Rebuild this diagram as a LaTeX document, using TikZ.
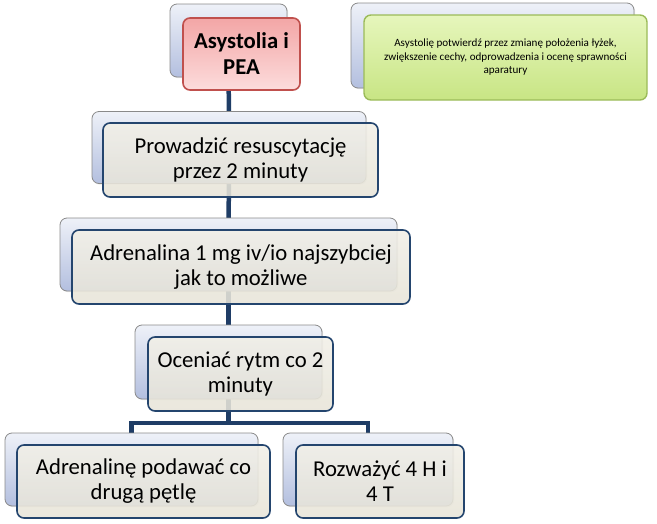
\documentclass[tikz,border=0pt]{standalone}
\usepackage{fontspec}
\setmainfont{Carlito}
\usetikzlibrary{backgrounds,shadows}
\definecolor{conn}{HTML}{1F3D66}
\definecolor{frontdraw}{HTML}{24456E}
\definecolor{backdraw}{HTML}{8A8A8A}
\definecolor{backtop}{HTML}{EEF1F8}
\definecolor{backbot}{HTML}{B3BFDF}
\definecolor{fronttop}{HTML}{F1EFE7}
\definecolor{frontbot}{HTML}{E7E4D8}
\definecolor{redtop}{HTML}{F3A6A6}
\definecolor{redbot}{HTML}{FCDCDC}
\definecolor{reddraw}{HTML}{C0504D}
\definecolor{greentop}{HTML}{E6F6BC}
\definecolor{greenbot}{HTML}{C8E584}
\definecolor{greendraw}{HTML}{9BBB59}
\tikzset{
  backbox/.style={draw=backdraw, line width=0.8pt, rounded corners=7pt,
    top color=backtop, bottom color=backbot, inner sep=0pt,
    drop shadow={opacity=0.18, shadow xshift=1.2pt, shadow yshift=-1.2pt}},
  frontbox/.style={draw=frontdraw, line width=1.6pt, rounded corners=7pt,
    top color=fronttop, bottom color=frontbot, fill opacity=0.88, text opacity=1,
    inner sep=0pt, align=center, text=black,
    font=\fontsize{22.7}{25}\selectfont},
  redbox/.style={frontbox, draw=reddraw, top color=redtop, bottom color=redbot,
    fill opacity=1, font=\fontsize{22.7}{26}\selectfont\bfseries},
  greenbox/.style={frontbox, draw=greendraw, line width=1.4pt, top color=greentop,
    bottom color=greenbot, fill opacity=1, font=\fontsize{11.1}{13.5}\selectfont},
  connector/.style={draw=conn, line width=4.5pt}
}
\begin{document}
\begin{tikzpicture}[x=1pt,y=-1pt]
\useasboundingbox (0,0) rectangle (657,523);
% shadow (back) boxes
\node[backbox, minimum width=117pt, minimum height=73pt] (b1s) at (228.5,40.5) {};
\node[backbox, minimum width=274pt, minimum height=72pt] (b2s) at (229,147.5) {};
\node[backbox, minimum width=337pt, minimum height=73pt] (b3s) at (228.5,254.5) {};
\node[backbox, minimum width=187pt, minimum height=74pt] (b4s) at (228.5,362) {};
\node[backbox, minimum width=253pt, minimum height=73pt] (b5s) at (131.5,469.5) {};
\node[backbox, minimum width=170pt, minimum height=73pt] (b6s) at (368,469.5) {};
\node[backbox, minimum width=283pt, minimum height=85pt] (b7s) at (492.5,45.5) {};
% front boxes
\node[redbox, minimum width=117pt, minimum height=72pt] (b1) at (241.5,54) {Asystolia i\\PEA};
\node[frontbox, minimum width=275pt, minimum height=74pt] (b2) at (240.5,160) {Prowadzić resuscytację\\przez 2 minuty};
\node[frontbox, minimum width=338pt, minimum height=74pt] (b3) at (241,267) {Adrenalina 1 mg iv/io najszybciej\\jak to możliwe};
\node[frontbox, minimum width=185pt, minimum height=74pt] (b4) at (240.5,374) {Oceniać rytm co 2\\minuty};
\node[frontbox, minimum width=253pt, minimum height=73pt] (b5) at (143.5,481.5) {Adrenalinę podawać co\\drugą pętlę};
\node[frontbox, minimum width=168pt, minimum height=73pt] (b6) at (380,481.5) {Rozważyć 4 H i\\4 T};
\node[greenbox, minimum width=283pt, minimum height=85pt] (b7) at (505.5,57.5) {Asystolię potwierdź przez zmianę położenia łyżek,\\zwiększenie cechy, odprowadzenia i ocenę sprawności\\aparatury};
% connectors
\coordinate (bar) at (228.5,423);
\begin{scope}[on background layer]
\draw[connector] (b1s.center) -- (b2s.center);
\draw[connector] (b2s.center) -- (b3s.center);
\draw[connector] (b3s.center) -- (b4s.center);
\draw[connector] (b4s.center) -- (bar);
\draw[connector] (b5s.center) |- (bar) -| (b6s.center);
\end{scope}
\end{tikzpicture}
\end{document}
